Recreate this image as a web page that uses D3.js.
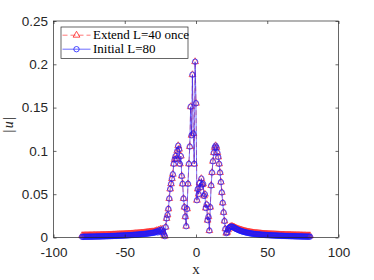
<!DOCTYPE html>
<html>
<head>
<meta charset="utf-8">
<script src="https://cdn.jsdelivr.net/npm/d3@7"></script>
<style>
  html, body { margin: 0; padding: 0; background: #fff; }
  svg { display: block; }
</style>
</head>
<body>
<svg id="chart" width="374" height="280"></svg>
<script>
// ---- data (grid x = xFirst + i * xStep, i = 0..256) ----
const xFirst = -80;
const xStep = 0.625;

// left tail, x = -80 .. -22.5
const leftTailInitial = [
  0.0008,0.0008,0.0008,0.0009,0.0009,0.0009,0.0009,0.0009,
  0.0010,0.0010,0.0010,0.0010,0.0010,0.0011,0.0011,0.0011,
  0.0011,0.0012,0.0012,0.0012,0.0012,0.0013,0.0013,0.0013,
  0.0014,0.0014,0.0014,0.0015,0.0015,0.0015,0.0016,0.0016,
  0.0016,0.0017,0.0017,0.0018,0.0018,0.0018,0.0019,0.0019,
  0.0020,0.0020,0.0021,0.0021,0.0022,0.0022,0.0023,0.0023,
  0.0024,0.0024,0.0025,0.0025,0.0026,0.0027,0.0027,0.0028,
  0.0029,0.0029,0.0030,0.0031,0.0032,0.0032,0.0033,0.0034,
  0.0035,0.0036,0.0037,0.0038,0.0039,0.0040,0.0041,0.0042,
  0.0043,0.0045,0.0046,0.0047,0.0049,0.0050,0.0052,0.0053,
  0.0055,0.0057,0.0060,0.0062,0.0072,0.0058,0.0079,0.0064,
  0.0088,0.0070,0.0092,0.0060,0.0035
];
const leftTailExtend = [
  0.0021,0.0021,0.0021,0.0022,0.0022,0.0022,0.0022,0.0022,
  0.0023,0.0023,0.0023,0.0023,0.0023,0.0024,0.0024,0.0024,
  0.0024,0.0025,0.0025,0.0025,0.0025,0.0026,0.0026,0.0026,
  0.0027,0.0027,0.0027,0.0028,0.0028,0.0028,0.0029,0.0029,
  0.0029,0.0030,0.0030,0.0031,0.0031,0.0031,0.0032,0.0032,
  0.0033,0.0033,0.0034,0.0034,0.0035,0.0035,0.0036,0.0036,
  0.0037,0.0037,0.0038,0.0038,0.0039,0.0040,0.0040,0.0041,
  0.0042,0.0042,0.0043,0.0044,0.0045,0.0045,0.0046,0.0047,
  0.0048,0.0049,0.0050,0.0051,0.0052,0.0053,0.0054,0.0055,
  0.0056,0.0058,0.0059,0.0060,0.0062,0.0063,0.0065,0.0066,
  0.0065,0.0067,0.0070,0.0072,0.0080,0.0066,0.0086,0.0071,
  0.0094,0.0076,0.0097,0.0064,0.0038
];
// core, x = -21.875 .. 25 (same for both runs)
const coreValues = [
  0.0015,0.012,0.022,0.026,0.033,0.045,0.056,0.062,
  0.068,0.073,0.085,0.090,0.094,0.091,0.100,0.106,
  0.102,0.085,0.094,0.071,0.062,0.045,0.035,0.024,
  0.013,0.033,0.062,0.085,0.105,0.151,0.118,0.188,
  0.120,0.085,0.203,0.155,0.043,0.056,0.050,0.063,
  0.058,0.068,0.061,0.062,0.048,0.050,0.034,0.038,
  0.020,0.024,0.008,0.035,0.060,0.075,0.088,0.098,
  0.104,0.106,0.104,0.098,0.093,0.085,0.075,0.064,
  0.052,0.040,0.029,0.019,0.010,0.005,0.006,0.009,
  0.011,0.012,0.0125,0.0127
];
// right tail, x = 25.625 .. 80
const rightTailInitial = [
  0.0122,0.0118,0.0112,0.0106,0.0100,0.0095,0.0090,0.0085,
  0.0081,0.0077,0.0073,0.0070,0.0067,0.0064,0.0061,0.0059,
  0.0056,0.0054,0.0052,0.0050,0.0048,0.0046,0.0045,0.0043,
  0.0042,0.0040,0.0039,0.0038,0.0037,0.0036,0.0035,0.0034,
  0.0033,0.0032,0.0031,0.0031,0.0030,0.0029,0.0028,0.0028,
  0.0027,0.0027,0.0026,0.0025,0.0025,0.0024,0.0024,0.0023,
  0.0023,0.0022,0.0022,0.0021,0.0021,0.0020,0.0020,0.0019,
  0.0019,0.0019,0.0018,0.0018,0.0017,0.0017,0.0017,0.0016,
  0.0016,0.0016,0.0015,0.0015,0.0015,0.0014,0.0014,0.0014,
  0.0013,0.0013,0.0013,0.0013,0.0012,0.0012,0.0012,0.0011,
  0.0011,0.0011,0.0011,0.0010,0.0010,0.0010,0.0010,0.0010
];
const rightTailExtend = [
  0.0126,0.0122,0.0117,0.0111,0.0106,0.0101,0.0097,0.0093,
  0.0090,0.0086,0.0083,0.0080,0.0077,0.0074,0.0071,0.0069,
  0.0066,0.0064,0.0062,0.0060,0.0058,0.0056,0.0055,0.0053,
  0.0052,0.0050,0.0049,0.0048,0.0047,0.0046,0.0045,0.0044,
  0.0043,0.0042,0.0041,0.0041,0.0040,0.0039,0.0038,0.0038,
  0.0037,0.0037,0.0036,0.0035,0.0035,0.0034,0.0034,0.0033,
  0.0033,0.0032,0.0032,0.0031,0.0031,0.0030,0.0030,0.0029,
  0.0029,0.0029,0.0028,0.0028,0.0027,0.0027,0.0027,0.0026,
  0.0026,0.0026,0.0025,0.0025,0.0025,0.0024,0.0024,0.0024,
  0.0023,0.0023,0.0023,0.0023,0.0022,0.0022,0.0022,0.0021,
  0.0021,0.0021,0.0021,0.0020,0.0020,0.0020,0.0020,0.0020
];

const seriesNames = ["Extend L=40 once", "Initial L=80"];
const xTicks = [-100, -50, 0, 50, 100];
const xTickLabels = ["-100", "-50", "0", "50", "100"];
const yTicks = [0, 0.05, 0.1, 0.15, 0.2, 0.25];
const yTickLabels = ["0", "0.05", "0.1", "0.15", "0.2", "0.25"];

const extendY = leftTailExtend.concat(coreValues, rightTailExtend);
const initialY = leftTailInitial.concat(coreValues, rightTailInitial);
const toPoints = ys => ys.map((v, i) => ({ x: xFirst + i * xStep, y: v }));
const extendPts = toPoints(extendY);
const initialPts = toPoints(initialY);

// ---- layout ----
const svg = d3.select("#chart");
const L = 53.5, R = 338.5, T = 21, B = 237.5;
const x = d3.scaleLinear().domain([-100, 100]).range([L, R]);
const y = d3.scaleLinear().domain([0, 0.25]).range([B, T]);
const axisColor = "#262626";
const tickFont = "'Liberation Sans', Arial, Helvetica, sans-serif";
const serif = "'Liberation Serif', 'Times New Roman', serif";

svg.append("rect").attr("width", 374).attr("height", 280).attr("fill", "#fff");

const red = "#ff2020", blue = "#1a1aff";
const line = d3.line().x(d => x(d.x)).y(d => y(d.y));
const plot = svg.append("g");

// Extend (red)
plot.append("path").datum(extendPts).attr("d", line)
  .attr("fill", "none").attr("stroke", red).attr("stroke-width", 0.7)
  .attr("stroke-dasharray", "5,3").attr("opacity", 0.75);
const tri = d3.symbol().type(d3.symbolTriangle).size(20);
plot.append("g").selectAll("path").data(extendPts).join("path")
  .attr("d", tri)
  .attr("transform", d => `translate(${x(d.x)},${y(d.y)})`)
  .attr("fill", "none").attr("stroke", red).attr("stroke-width", 0.7);

// Initial (blue)
plot.append("path").datum(initialPts).attr("d", line)
  .attr("fill", "none").attr("stroke", blue).attr("stroke-width", 0.7).attr("opacity", 0.8);
plot.append("g").selectAll("circle").data(initialPts).join("circle")
  .attr("cx", d => x(d.x)).attr("cy", d => y(d.y)).attr("r", 2.7)
  .attr("fill", "none").attr("stroke", blue).attr("stroke-width", 0.7);

// ---- axes box ----
const tl = 3;
const ax = svg.append("g");
ax.append("rect").attr("x", L).attr("y", T).attr("width", R - L).attr("height", B - T)
  .attr("fill", "none").attr("stroke", axisColor).attr("stroke-width", 0.7);

const xAxisB = d3.axisBottom(x).tickValues(xTicks).tickSize(-tl)
  .tickFormat((d, i) => xTickLabels[i]);
const gx = ax.append("g").attr("transform", `translate(0,${B})`).call(xAxisB);
gx.select(".domain").remove();
gx.selectAll("line").attr("stroke", axisColor).attr("stroke-width", 0.7);
gx.selectAll("text").attr("font-family", tickFont).attr("font-size", 13.5)
  .attr("fill", axisColor).attr("y", 10).attr("dy", "0.71em");

const gxt = ax.append("g").attr("transform", `translate(0,${T})`)
  .call(d3.axisTop(x).tickValues(xTicks).tickSize(-tl).tickFormat(""));
gxt.select(".domain").remove();
gxt.selectAll("line").attr("stroke", axisColor).attr("stroke-width", 0.7);

const yAxisL = d3.axisLeft(y).tickValues(yTicks).tickSize(-tl)
  .tickFormat((d, i) => yTickLabels[i]);
const gy = ax.append("g").attr("transform", `translate(${L},0)`).call(yAxisL);
gy.select(".domain").remove();
gy.selectAll("line").attr("stroke", axisColor).attr("stroke-width", 0.7);
gy.selectAll("text").attr("font-family", tickFont).attr("font-size", 13.5)
  .attr("fill", axisColor).attr("x", -5.5).attr("dy", "0.32em");

const gyr = ax.append("g").attr("transform", `translate(${R},0)`)
  .call(d3.axisRight(y).tickValues(yTicks).tickSize(-tl).tickFormat(""));
gyr.select(".domain").remove();
gyr.selectAll("line").attr("stroke", axisColor).attr("stroke-width", 0.7);

// axis labels
svg.append("text").attr("x", (L + R) / 2).attr("y", 274)
  .attr("text-anchor", "middle").attr("font-family", serif).attr("font-size", 15)
  .attr("fill", axisColor).text("x");
const yl = svg.append("text").attr("transform", `translate(13,124) rotate(-90)`)
  .attr("text-anchor", "middle").attr("font-family", serif).attr("font-size", 14)
  .attr("letter-spacing", 1.5).attr("fill", axisColor);
yl.append("tspan").text("|");
yl.append("tspan").attr("font-style", "italic").text("u");
yl.append("tspan").text("|");

// ---- legend ----
const lg = svg.append("g");
lg.append("rect").attr("x", 61).attr("y", 27).attr("width", 127).attr("height", 31.5)
  .attr("fill", "#fff").attr("stroke", axisColor).attr("stroke-width", 0.7);
const rows = [35.2, 49.2];
// row 1
lg.append("line").attr("x1", 62.5).attr("x2", 90.5).attr("y1", rows[0]).attr("y2", rows[0])
  .attr("stroke", red).attr("stroke-width", 0.8).attr("stroke-dasharray", "5,3").attr("opacity", 0.75);
lg.append("path").attr("d", tri).attr("transform", `translate(76.5,${rows[0]})`)
  .attr("fill", "none").attr("stroke", red).attr("stroke-width", 0.8);
// row 2
lg.append("line").attr("x1", 62.5).attr("x2", 90.5).attr("y1", rows[1]).attr("y2", rows[1])
  .attr("stroke", blue).attr("stroke-width", 0.8).attr("opacity", 0.8);
lg.append("circle").attr("cx", 76.5).attr("cy", rows[1]).attr("r", 2.7)
  .attr("fill", "none").attr("stroke", blue).attr("stroke-width", 0.8);
seriesNames.forEach((s, i) => {
  lg.append("text").attr("x", 93).attr("y", rows[i]).attr("dy", "0.33em")
    .attr("font-family", serif).attr("font-size", 13).attr("fill", "#000").text(s);
});
</script>
</body>
</html>
